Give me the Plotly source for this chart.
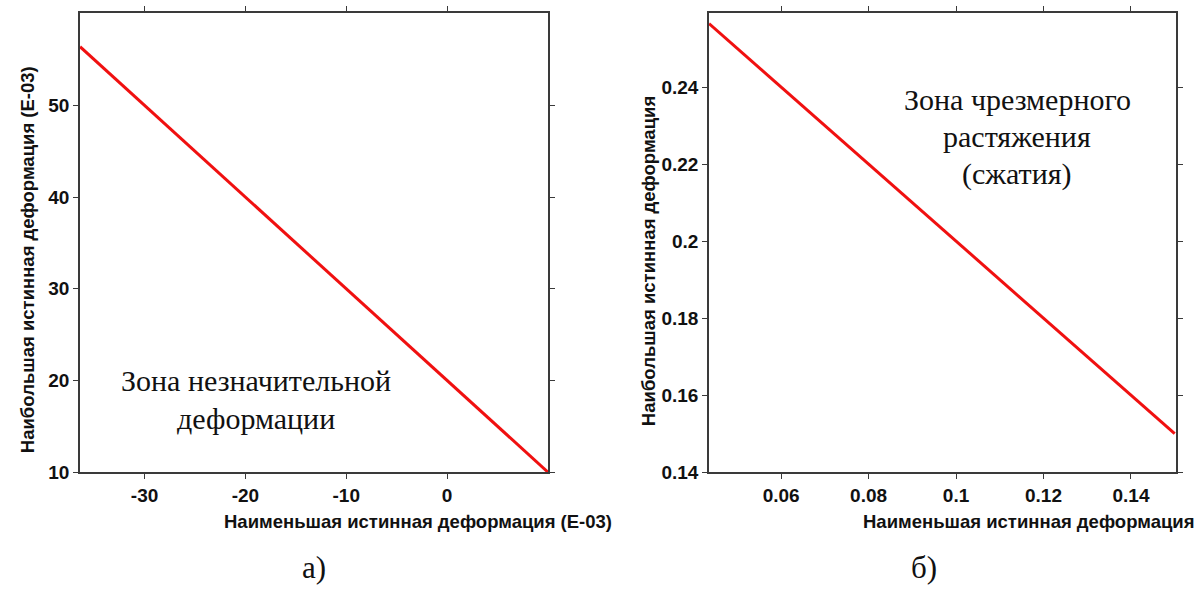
import plotly.graph_objects as go

# ---- data ----
# panel a) (values in E-03)
a_minor = [-36.4, 10.0]
a_major = [56.4, 10.0]
a_xticks = [-30, -20, -10, 0]
a_xticktext = ["-30", "-20", "-10", "0"]
a_yticks = [10, 20, 30, 40, 50]
a_yticktext = ["10", "20", "30", "40", "50"]

# panel б)
b_minor = [0.0435, 0.150]
b_major = [0.2565, 0.150]
b_xticks = [0.06, 0.08, 0.10, 0.12, 0.14]
b_xticktext = ["0.06", "0.08", "0.1", "0.12", "0.14"]
b_yticks = [0.14, 0.16, 0.18, 0.20, 0.22, 0.24]
b_yticktext = ["0.14", "0.16", "0.18", "0.2", "0.22", "0.24"]

W, H = 1204, 601
RED = "#f01010"
AX = "#3a3a3a"
SANS = "Liberation Sans, Arial, sans-serif"
SERIF = "Liberation Serif, Times New Roman, serif"

fig = go.Figure()
fig.add_trace(go.Scatter(x=a_minor, y=a_major, mode="lines",
                         line=dict(color=RED, width=3), xaxis="x", yaxis="y",
                         showlegend=False, hoverinfo="skip"))
fig.add_trace(go.Scatter(x=b_minor, y=b_major, mode="lines",
                         line=dict(color=RED, width=3), xaxis="x2", yaxis="y2",
                         showlegend=False, hoverinfo="skip"))

def px_x(p):
    return p / W

def px_y(p):
    return 1 - p / H

axis_common = dict(showline=True, linecolor=AX, linewidth=1.5, mirror="ticks",
                   ticks="outside", ticklen=5, tickwidth=1.2, tickcolor=AX,
                   showgrid=False, zeroline=False,
                   tickfont=dict(family=SANS, size=19, color="#111111"))

fig.update_layout(
    width=W, height=H, autosize=False,
    margin=dict(l=0, r=0, t=0, b=0),
    paper_bgcolor="white", plot_bgcolor="white",
    xaxis=dict(domain=[px_x(80), px_x(548)], range=[-36.4, 10.0],
               tickvals=a_xticks, ticktext=["<b>%s</b>" % t for t in a_xticktext],
               anchor="y", **axis_common),
    yaxis=dict(domain=[px_y(481), px_y(13)], range=[10, 60.1],
               tickvals=a_yticks, ticktext=["<b>%s</b>" % t for t in a_yticktext],
               anchor="x", **axis_common),
    xaxis2=dict(domain=[px_x(709), px_x(1176)], range=[0.0435, 0.1503],
                tickvals=b_xticks, ticktext=["<b>%s</b>" % t for t in b_xticktext],
                anchor="y2", **axis_common),
    yaxis2=dict(domain=[px_y(481), px_y(13)], range=[0.14, 0.2593],
                tickvals=b_yticks, ticktext=["<b>%s</b>" % t for t in b_yticktext],
                anchor="x2", **axis_common),
)

ann = []
def add_text(text, x, y, size, family, bold=False, angle=0):
    t = "<b>%s</b>" % text if bold else text
    ann.append(dict(text=t, x=px_x(x), y=px_y(y), xref="paper", yref="paper",
                    showarrow=False, xanchor="center", yanchor="middle",
                    textangle=angle,
                    font=dict(family=family, size=size, color="#111111")))

# axis titles
add_text("Наименьшая истинная деформация (E-03)", 418, 531, 18.5, SANS, bold=True)
add_text("Наибольшая истинная деформация (E-03)", 27, 265, 18.5, SANS, bold=True, angle=-90)
add_text("Наименьшая истинная деформация", 1028, 531, 18.5, SANS, bold=True)
add_text("Наибольшая истинная деформация", 648, 266, 18.5, SANS, bold=True, angle=-90)

# zone labels
add_text("Зона незначительной", 256, 388, 30, SERIF)
add_text("деформации", 256, 426, 30, SERIF)
add_text("Зона чрезмерного", 1017, 101, 30, SERIF)
add_text("растяжения", 1017, 139, 30, SERIF)
add_text("(сжатия)", 1017, 177, 30, SERIF)

# panel labels
add_text("а)", 314, 578, 31, SERIF)
add_text("б)", 924, 578, 31, SERIF)

fig.update_layout(annotations=ann)
fig.write_html("out.html")
